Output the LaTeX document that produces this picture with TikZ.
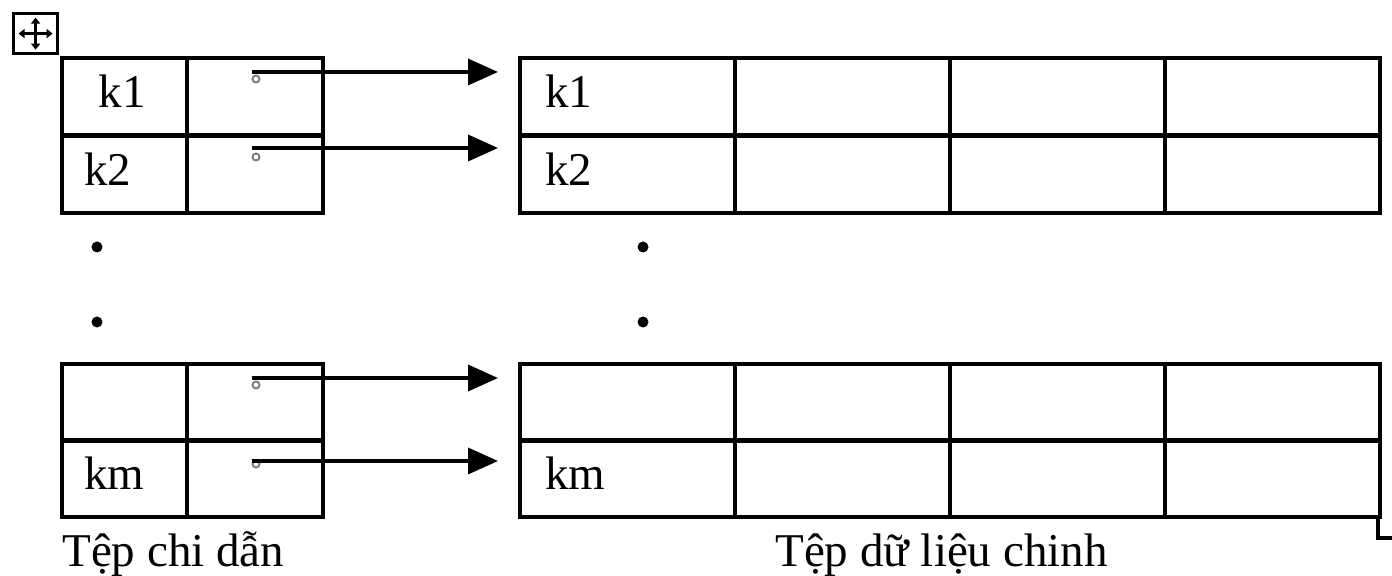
\documentclass[tikz,border=0pt]{standalone}
\usepackage{fontspec}
\setmainfont{Liberation Serif}
\usetikzlibrary{arrows.meta}
\begin{document}
\begin{tikzpicture}[x=0.5pt,y=-0.5pt,
  cell/.style={draw, line width=1.8pt, inner sep=0pt, anchor=north west, minimum height=38.5pt},
  lc1/.style={cell, minimum width=62.5pt},
  lc2/.style={cell, minimum width=68pt},
  rc/.style={cell, minimum width=107.5pt},
  lbl/.style={inner sep=0pt, anchor=base west, font=\fontsize{23.5}{28}\selectfont},
  ptr/.style={circle, draw=gray, line width=1pt, inner sep=0pt, minimum size=3.5pt},
  arr/.style={line width=1.8pt, -{Triangle[length=15pt,width=13pt]}},
  dot/.style={circle, fill=black, inner sep=0pt, minimum size=5.5pt}]
\useasboundingbox (0,0) rectangle (1392,576);
\fill[white] (0,0) rectangle (1392,576);

% move handle
\node[draw, line width=1.6pt, inner sep=0pt, minimum width=22pt, minimum height=20pt, anchor=north west] (handle) at (12,12) {};
\draw[line width=1.4pt, {Triangle[length=3pt,width=4.5pt]}-{Triangle[length=3pt,width=4.5pt]}] ([xshift=-8.5pt]handle.center) -- ([xshift=8.5pt]handle.center);
\draw[line width=1.4pt, {Triangle[length=3pt,width=4.5pt]}-{Triangle[length=3pt,width=4.5pt]}] ([yshift=-8pt]handle.center) -- ([yshift=8pt]handle.center);

% index file (left) top rows
\node[lc1] (La1) at (60,56) {};
\node[lc2] (La2) at (185,56) {};
\node[lc1] (Lb1) at (60,134) {};
\node[lc2] (Lb2) at (185,134) {};
% index file bottom rows
\node[lc1] (Lc1) at (60,362) {};
\node[lc2] (Lc2) at (185,362) {};
\node[lc1] (Ld1) at (60,438) {};
\node[lc2] (Ld2) at (185,438) {};

% data file (right)
\foreach \r/\y in {a/56,b/134,c/362,d/438}{
  \foreach \c/\x in {1/518,2/733,3/948,4/1163}{
    \node[rc] (R\r\c) at (\x,\y) {};
  }
}

% labels
\node[lbl, anchor=base] (tk1) at (122,108) {k1};
\node[lbl] (tk2) at (84,186) {k2};
\node[lbl] (tkm) at (84,490) {km};
\node[lbl] (rk1) at (545,108) {k1};
\node[lbl] (rk2) at (545,186) {k2};
\node[lbl] (rkm) at (545,490) {km};

% pointers
\node[ptr] (pa) at (256,79) {};
\node[ptr] (pb) at (256,157) {};
\node[ptr] (pc) at (256,385) {};
\node[ptr] (pd) at (256,464) {};
\coordinate (ea) at (498,72);
\coordinate (eb) at (498,148);
\coordinate (ec) at (498,378);
\coordinate (ed) at (498,461);
\draw[arr] (pa.west |- ea) -- (ea);
\draw[arr] (pb.west |- eb) -- (eb);
\draw[arr] (pc.west |- ec) -- (ec);
\draw[arr] (pd.west |- ed) -- (ed);

% ellipsis dots
\node[dot] (d1) at (97,247) {};
\node[dot] (d2) at (97,322) {};
\node[dot] (d3) at (643,247) {};
\node[dot] (d4) at (643,322) {};

% table resize handle
\draw[line width=1.8pt] (1378,515) -- (1378,538) -- (1395,538);

% captions
\node[lbl] (cap1) at (62,567) {Tệp chi dẫn};
\node[lbl] (cap2) at (775,567) {Tệp dữ liệu chinh};
\end{tikzpicture}
\end{document}
